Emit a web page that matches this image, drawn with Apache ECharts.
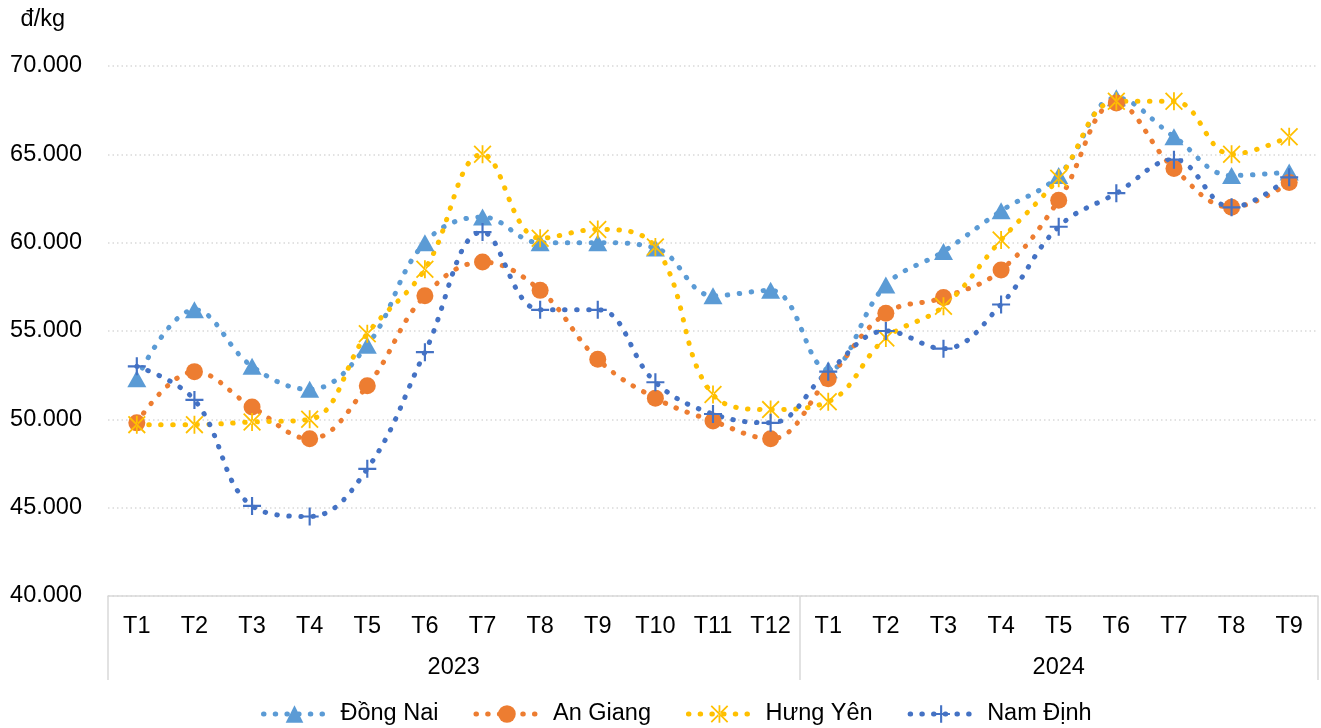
<!DOCTYPE html>
<html>
<head>
<meta charset="utf-8">
<script src="https://cdn.jsdelivr.net/npm/echarts@6/dist/echarts.min.js"></script>
<style>
  html, body { margin: 0; padding: 0; background: #fff; }
  #chart { width: 1321px; height: 728px; }
</style>
</head>
<body>
<div id="chart"></div>
<script>
  // thang 2023 + 2024
  const months = ['T1', 'T2', 'T3', 'T4', 'T5', 'T6', 'T7', 'T8', 'T9', 'T10', 'T11', 'T12',
    'T1', 'T2', 'T3', 'T4', 'T5', 'T6', 'T7', 'T8', 'T9']
  const years = ['2023', '2024']
  const yearCenters = [6, 16.5] // vi tri giua moi nam (tinh theo so thang)

  const dongNai = [52300, 56200, 53000, 51700, 54200, 60000, 61450, 60000, 60000, 59700, 57000, 57300,
    52800, 57600, 59500, 61800, 63800, 68200, 66000, 63800, 64000]
  const anGiang = [49800, 52700, 50700, 48900, 51900, 57000, 58900, 57300, 53400, 51200, 49900, 48900,
    52300, 56000, 56900, 58450, 62400, 67900, 64200, 62000, 63400]
  const hungYen = [49700, 49700, 49850, 50000, 54850, 58500, 65000, 60250, 60750, 59750, 51400, 50550,
    51000, 54600, 56400, 60150, 63650, 68000, 68000, 65000, 66000]
  const namDinh = [53000, 51100, 45100, 44500, 47200, 53800, 60600, 56200, 56200, 52100, 50300, 49800,
    52700, 55000, 54000, 56500, 60900, 62800, 64700, 62000, 63700]

  const fontFamily = '"Liberation Sans", Arial, sans-serif'
  const fontSize = 23.5

  const asterisk = 'path://M0,1.4L1.4,0L20,18.6L18.6,20Z M20,1.4L18.6,0L0,18.6L1.4,20Z M9,0H11V20H9Z'
  const plus = 'path://M8.8,0H11.2V20H8.8Z M0,8.8H20V11.2H0Z'

  function makeSeries(name, data, color, symbol, size) {
    return {
      name: name,
      type: 'line',
      data: data,
      smooth: 0.4,
      symbol: symbol,
      symbolSize: size,
      showAllSymbol: true,
      itemStyle: { color: color },
      lineStyle: {
        color: color,
        width: 5,
        type: [0.5, 11.5],
        cap: 'round'
      }
    }
  }

  const chart = echarts.init(document.getElementById('chart'))
  chart.setOption({
    animation: false,
    textStyle: { fontFamily: fontFamily },
    grid: {
      left: 108,
      top: 66,
      width: 1218,
      height: 530
    },
    legend: {
      top: 697,
      left: 256,
      itemWidth: 62,
      itemHeight: 22,
      itemGap: 35,
      lineStyle: {
        width: 5,
        type: [0.5, 11.2],
        cap: 'round'
      },
      textStyle: {
        fontSize: fontSize,
        color: '#000',
        fontFamily: fontFamily,
        padding: [0, 0, 0, 10]
      },
      data: ['Đồng Nai', 'An Giang', 'Hưng Yên', 'Nam Định']
    },
    xAxis: [{
      type: 'category',
      data: months,
      axisLine: { lineStyle: { color: '#d9d9d9', width: 1.5 } },
      axisTick: {
        show: true,
        length: 84,
        interval: function (index) {
          return index === 0 || index === 12
        },
        lineStyle: { color: '#d9d9d9', width: 1.5 }
      },
      axisLabel: {
        interval: 0,
        margin: 19,
        fontSize: fontSize,
        color: '#000'
      }
    }, {
      type: 'value',
      position: 'bottom',
      min: 0,
      max: 21,
      interval: 1.5,
      axisLine: { show: false },
      axisTick: { show: false },
      splitLine: { show: false },
      axisLabel: {
        margin: 60,
        fontSize: fontSize,
        color: '#000',
        formatter: function (v) {
          const i = yearCenters.indexOf(v)
          return i >= 0 ? years[i] : ''
        }
      }
    }],
    yAxis: {
      type: 'value',
      min: 40000,
      max: 70000,
      interval: 5000,
      name: 'đ/kg',
      nameLocation: 'end',
      nameGap: 46,
      nameTextStyle: {
        fontSize: fontSize,
        color: '#000',
        align: 'right',
        verticalAlign: 'middle',
        padding: [0, 43, 0, 0]
      },
      axisLine: { show: false },
      axisTick: { show: false },
      splitLine: {
        lineStyle: { color: '#d9d9d9', width: 1.5, type: [1.5, 3] }
      },
      axisLabel: {
        margin: 26,
        fontSize: fontSize,
        color: '#000',
        formatter: function (v) {
          return String(v).replace(/\B(?=(\d{3})+(?!\d))/g, '.')
        }
      }
    },
    series: [
      makeSeries('Đồng Nai', dongNai, '#5B9BD5', 'triangle', [19, 17]),
      makeSeries('An Giang', anGiang, '#ED7D31', 'circle', 17),
      makeSeries('Hưng Yên', hungYen, '#FFC000', asterisk, 18),
      makeSeries('Nam Định', namDinh, '#4472C4', plus, 18)
    ]
  })
</script>
</body>
</html>
